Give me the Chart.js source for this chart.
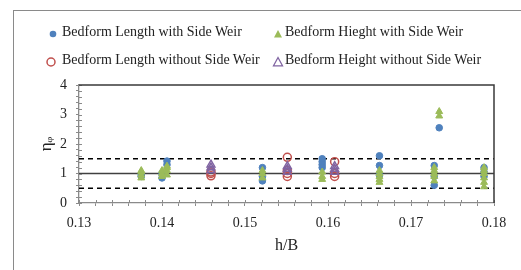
<!DOCTYPE html>
<html>
<head>
<meta charset="utf-8">
<script src="https://cdn.jsdelivr.net/npm/chart.js@4"></script>
<style>
  html, body { margin: 0; padding: 0; background: #fff; }
  #wrap { position: relative; width: 521px; height: 270px; overflow: hidden; }
  #frame { position: absolute; left: 13px; top: 10px; width: 600px; height: 400px;
           border-left: 1.5px solid #8a8a8a; border-top: 1.5px solid #8a8a8a; }
  canvas { position: absolute; left: 0; top: 0; }
  .lg { position: absolute; font: 14px "Liberation Serif", "Times New Roman", serif; color: #222;
        line-height: 16px; white-space: nowrap; }
  .mk { position: absolute; }
</style>
</head>
<body>
<div id="wrap">
  <div id="frame"></div>
  <canvas id="c" width="521" height="270"></canvas>
  <div id="legend"></div>
</div>
<script>
// ---- data ----
const seriesNames = [
  "Bedform Length with Side Weir",
  "Bedform Hieght with Side Weir",
  "Bedform Length without Side Weir",
  "Bedform Height without Side Weir"
];
const lengthWithX = [0.1375,0.1375,0.1400,0.1400,0.1406,0.1406,0.1521,0.1521,0.1521,0.1593,0.1593,0.1593,0.1593,0.1662,0.1662,0.1662,0.1728,0.1728,0.1728,0.1734,0.1788,0.1788,0.1788];
const lengthWithY = [0.90,0.95,0.85,1.00,1.30,1.42,0.75,0.90,1.20,1.20,1.30,1.40,1.50,0.95,1.27,1.60,0.60,0.90,1.27,2.55,0.90,1.05,1.20];
const heightWithX = [0.1375,0.1375,0.1375,0.1375,0.1400,0.1400,0.1400,0.1406,0.1406,0.1406,0.1406,0.1521,0.1521,0.1521,0.1593,0.1593,0.1593,0.1662,0.1662,0.1662,0.1662,0.1662,0.1728,0.1728,0.1728,0.1728,0.1728,0.1734,0.1734,0.1788,0.1788,0.1788,0.1788,0.1788,0.1788];
const heightWithY = [0.85,0.95,1.05,1.10,0.90,1.00,1.10,0.95,1.10,1.20,1.25,0.85,1.00,1.10,0.80,0.90,1.05,0.70,0.80,0.90,1.00,1.10,0.75,0.90,1.00,1.10,1.20,2.95,3.10,0.55,0.70,0.85,1.00,1.10,1.20];
const lengthWithoutX = [0.1459,0.1459,0.1459,0.1551,0.1551,0.1551,0.1551,0.1608,0.1608,0.1608];
const lengthWithoutY = [0.92,1.00,1.05,0.90,1.00,1.10,1.55,0.90,1.00,1.40];
const heightWithoutX = [0.1459,0.1459,0.1459,0.1551,0.1551,0.1551,0.1608,0.1608,0.1608];
const heightWithoutY = [1.10,1.20,1.30,1.05,1.15,1.25,1.05,1.15,1.25];
const refLineX = [0.13, 0.18];
const refMean = 1.0, refUpper = 1.5, refLower = 0.5;
const xTickLabels = ["0.13","0.14","0.15","0.16","0.17","0.18"];
const yTickLabels = ["0","1","2","3","4"];

const colors = ["#4F81BD", "#9BBB59", "#C0504D", "#8064A2"];

function pts(xs, ys) { return xs.map((x, i) => ({ x: x, y: ys[i] })); }
function hline(v) { return refLineX.map(x => ({ x: x, y: v })); }

const serif = "'Liberation Serif', 'Times New Roman', serif";

const crossTicks = {
  id: 'crossTicks',
  afterDraw(chart) {
    const ctx = chart.ctx, a = chart.chartArea;
    const xs = chart.scales.x, ys = chart.scales.y;
    ctx.save();
    ctx.strokeStyle = '#8a8a8a';
    ctx.lineWidth = 1;
    ctx.beginPath();
    xs.ticks.forEach(t => {
      const px = Math.round(xs.getPixelForValue(t.value)) + 0.5;
      ctx.moveTo(px, a.bottom); ctx.lineTo(px, a.bottom - 3);
    });
    ys.ticks.forEach(t => {
      const py = Math.round(ys.getPixelForValue(t.value)) + 0.5;
      ctx.moveTo(a.left, py); ctx.lineTo(a.left + 3, py);
    });
    ctx.stroke();
    // frame: top and right borders
    ctx.strokeStyle = '#3a3a3a';
    ctx.lineWidth = 1.5;
    ctx.beginPath();
    ctx.moveTo(a.left, a.top); ctx.lineTo(a.right, a.top); ctx.lineTo(a.right, a.bottom);
    ctx.stroke();
    ctx.restore();
  }
};

new Chart(document.getElementById('c'), {
  type: 'scatter',
  data: {
    datasets: [
      { label: seriesNames[0], data: pts(lengthWithX, lengthWithY), pointStyle: 'circle', radius: 3.3,
        backgroundColor: colors[0], borderColor: colors[0], borderWidth: 1, order: 3 },
      { label: seriesNames[1], data: pts(heightWithX, heightWithY), pointStyle: 'triangle', radius: 4,
        backgroundColor: colors[1], borderColor: colors[1], borderWidth: 1, order: 2 },
      { label: seriesNames[2], data: pts(lengthWithoutX, lengthWithoutY), pointStyle: 'circle', radius: 4,
        backgroundColor: 'rgba(255,255,255,0)', borderColor: colors[2], borderWidth: 1.5, order: 1 },
      { label: seriesNames[3], data: pts(heightWithoutX, heightWithoutY), pointStyle: 'triangle', radius: 4.5,
        backgroundColor: 'rgba(255,255,255,0)', borderColor: colors[3], borderWidth: 1.5, order: 0 },
      { label: 'mean', data: hline(refMean), showLine: true, pointRadius: 0, borderColor: '#404040',
        borderWidth: 1.3, order: 10 },
      { label: 'upper', data: hline(refUpper), showLine: true, pointRadius: 0, borderColor: '#000',
        borderWidth: 1.3, borderDash: [5, 4], order: 10 },
      { label: 'lower', data: hline(refLower), showLine: true, pointRadius: 0, borderColor: '#000',
        borderWidth: 1.3, borderDash: [5, 4], order: 10 }
    ]
  },
  options: {
    responsive: false,
    animation: false,
    layout: { padding: { left: 0, right: 27, top: 85, bottom: 0 } },
    plugins: { legend: { display: false }, tooltip: { enabled: false } },
    scales: {
      x: {
        type: 'linear', min: 0.13, max: 0.18,
        afterFit(s) { s.height = 67; },
        afterBuildTicks(s) {
          const t = [];
          for (let i = 0; i <= 25; i++) t.push({ value: 0.13 + i * 0.002 });
          s.ticks = t;
        },
        ticks: {
          autoSkip: false, maxRotation: 0, padding: 9,
          color: '#222', font: { family: serif, size: 14 },
          callback(v, i) { return i % 5 === 0 ? xTickLabels[i / 5] : ''; }
        },
        grid: { drawOnChartArea: false, tickLength: 3, color: '#8a8a8a' },
        border: { color: '#8a8a8a', width: 1.3 },
        title: { display: true, text: 'h/B', color: '#222', font: { family: serif, size: 16 }, padding: { top: 0, bottom: 15 } }
      },
      y: {
        type: 'linear', min: 0, max: 4,
        afterFit(s) { s.width = 79; },
        afterBuildTicks(s) {
          const t = [];
          for (let i = 0; i <= 20; i++) t.push({ value: i * 0.2 });
          s.ticks = t;
        },
        ticks: {
          autoSkip: false, padding: 9,
          color: '#222', font: { family: serif, size: 14 },
          callback(v, i) { return i % 5 === 0 ? yTickLabels[i / 5] : ''; }
        },
        grid: { drawOnChartArea: false, tickLength: 3, color: '#8a8a8a' },
        border: { color: '#8a8a8a', width: 1.3 },
        title: { display: true, text: 'ηᵩ', color: '#222', font: { family: serif, size: 17 }, padding: { top: 36, bottom: 0 } }
      }
    }
  },
  plugins: [crossTicks]
});

// ---- HTML legend (2 x 2 grid as in reference) ----
const legendPos = [
  { mx: 53, tx: 62, cy: 32 }, { mx: 278, tx: 285, cy: 32 },
  { mx: 51, tx: 62, cy: 60 }, { mx: 278, tx: 285, cy: 60 }
];
const markers = [
  c => `<circle cx="6" cy="6" r="3.3" fill="${c}"/>`,
  c => `<polygon points="6,2 10,9.5 2,9.5" fill="${c}"/>`,
  c => `<circle cx="6" cy="6" r="4" fill="none" stroke="${c}" stroke-width="1.5"/>`,
  c => `<polygon points="6,1.5 10.5,9.8 1.5,9.8" fill="none" stroke="${c}" stroke-width="1.3"/>`
];
const lg = document.getElementById('legend');
seriesNames.forEach((name, i) => {
  const p = legendPos[i];
  const m = document.createElement('div');
  m.className = 'mk';
  m.style.left = (p.mx - 6) + 'px';
  m.style.top = (p.cy - 6) + 'px';
  m.innerHTML = `<svg width="12" height="12">${markers[i](colors[i])}</svg>`;
  lg.appendChild(m);
  const t = document.createElement('div');
  t.className = 'lg';
  t.style.left = p.tx + 'px';
  t.style.top = (p.cy - 8) + 'px';
  t.textContent = name;
  lg.appendChild(t);
});
</script>
</body>
</html>
